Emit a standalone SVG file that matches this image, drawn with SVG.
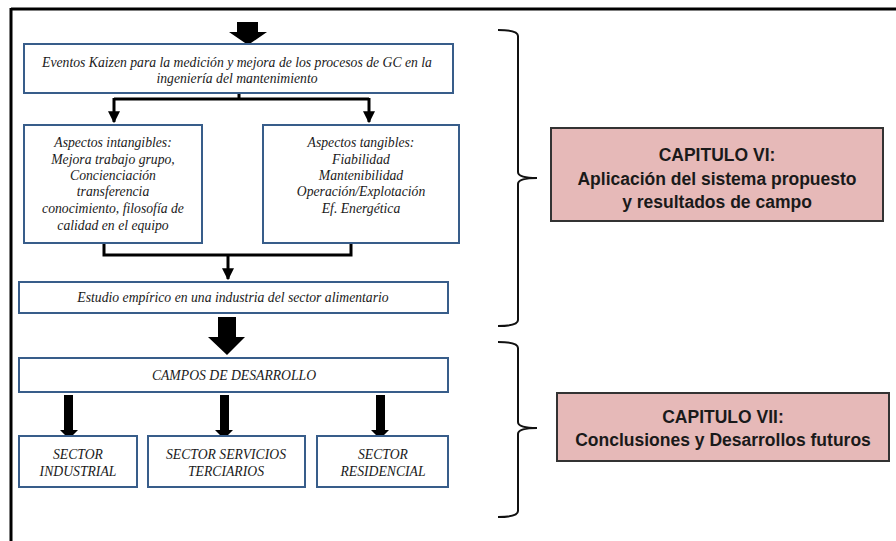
<svg xmlns="http://www.w3.org/2000/svg" width="896" height="541" viewBox="0 0 896 541">
<defs>
<style>
.box{fill:#ffffff;stroke:#385d8a;stroke-width:2}
.cap{fill:#e6b9b8;stroke:#333333;stroke-width:2}
.t{font-family:"Liberation Serif","Times New Roman",serif;font-style:italic;font-size:13.7px;fill:#1a1a1a;text-anchor:middle}
.c{font-family:"Liberation Sans",Arial,sans-serif;font-weight:bold;font-size:17.5px;fill:#1a1a1a;text-anchor:middle}
.ln{fill:none;stroke:#000;stroke-width:3}
.br{fill:none;stroke:#111;stroke-width:2}
.blk{fill:#000}
</style>
<marker id="ah" viewBox="0 0 10 10" refX="9" refY="5" markerWidth="4" markerHeight="4" orient="auto" markerUnits="strokeWidth">
<path d="M0,0 L10,5 L0,10 z" fill="#000"/>
</marker>
</defs>
<rect width="896" height="541" fill="#ffffff"/>
<g id="frame">
<line x1="11" y1="9" x2="896" y2="9" stroke="#000" stroke-width="3"/>
<line x1="11" y1="8" x2="11" y2="541" stroke="#000" stroke-width="3"/>
</g>
<g id="connectors">
<polygon class="blk" points="237,22 258,22 258,32 267,32 248,45 229,32 237,32"/>
<path class="ln" d="M239,93 V99 M114,99 H369"/>
<line class="ln" x1="114" y1="98" x2="114" y2="122" marker-end="url(#ah)"/>
<line class="ln" x1="369" y1="98" x2="369" y2="122" marker-end="url(#ah)"/>
<path class="ln" d="M104,243 V255 H351 V243"/>
<line class="ln" x1="228" y1="254" x2="228" y2="279" marker-end="url(#ah)"/>
<polygon class="blk" points="218,317 236,317 236,337 245,337 227,355 208,337 218,337"/>
<polygon class="blk" points="64,395 73,395 73,430 78,430 69,439 60,430 64,430"/>
<polygon class="blk" points="220,395 229,395 229,430 233,430 224,439 215,430 220,430"/>
<polygon class="blk" points="376,395 385,395 385,430 389,430 380,439 371,430 376,430"/>
</g>
<g id="kaizen">
<rect class="box" x="24" y="44" width="429" height="49"/>
<text class="t" x="237" y="67">Eventos Kaizen para la medición y mejora de los procesos de GC en la</text>
<text class="t" x="237" y="83">ingeniería del mantenimiento</text>
</g>
<g id="intangibles">
<rect class="box" x="24" y="125" width="178" height="118"/>
<text class="t" x="113" y="147">Aspectos intangibles:</text>
<text class="t" x="113" y="164">Mejora trabajo grupo,</text>
<text class="t" x="113" y="180">Concienciación</text>
<text class="t" x="113" y="196">transferencia</text>
<text class="t" x="113" y="213">conocimiento, filosofía de</text>
<text class="t" x="113" y="230">calidad en el equipo</text>
</g>
<g id="tangibles">
<rect class="box" x="263" y="125" width="196" height="118"/>
<text class="t" x="361" y="147">Aspectos tangibles:</text>
<text class="t" x="361" y="164">Fiabilidad</text>
<text class="t" x="361" y="180">Mantenibilidad</text>
<text class="t" x="361" y="196">Operación/Explotación</text>
<text class="t" x="361" y="213">Ef. Energética</text>
</g>
<g id="estudio">
<rect class="box" x="19" y="282" width="429" height="31"/>
<text class="t" x="233" y="302">Estudio empírico en una industria del sector alimentario</text>
</g>
<g id="campos">
<rect class="box" x="19" y="358" width="429" height="34"/>
<text class="t" x="234" y="380">CAMPOS DE DESARROLLO</text>
</g>
<g id="industrial">
<rect class="box" x="19" y="436" width="118" height="51"/>
<text class="t" x="78" y="459">SECTOR</text>
<text class="t" x="78" y="476">INDUSTRIAL</text>
</g>
<g id="terciarios">
<rect class="box" x="148" y="436" width="157" height="51"/>
<text class="t" x="226" y="459">SECTOR SERVICIOS</text>
<text class="t" x="226" y="476">TERCIARIOS</text>
</g>
<g id="residencial">
<rect class="box" x="317" y="436" width="131" height="51"/>
<text class="t" x="383" y="459">SECTOR</text>
<text class="t" x="383" y="476">RESIDENCIAL</text>
</g>
<g id="brace1">
<path class="br" d="M498,30 Q518,30 518,36 V172 Q518,178 537,178 Q518,178 518,184 V320 Q518,326 498,326"/>
</g>
<g id="brace2">
<path class="br" d="M498,342 Q518,342 518,348 V422 Q518,428 537,428 Q518,428 518,434 V511 Q518,517 498,517"/>
</g>
<g id="cap6">
<rect class="cap" x="551" y="128" width="332" height="93"/>
<text class="c" x="717" y="161">CAPITULO VI:</text>
<text class="c" x="717" y="185">Aplicación del sistema propuesto</text>
<text class="c" x="717" y="208">y resultados de campo</text>
</g>
<g id="cap7">
<rect class="cap" x="557" y="393" width="332" height="68"/>
<text class="c" x="723" y="423">CAPITULO VII:</text>
<text class="c" x="723" y="446">Conclusiones y Desarrollos futuros</text>
</g>
</svg>
